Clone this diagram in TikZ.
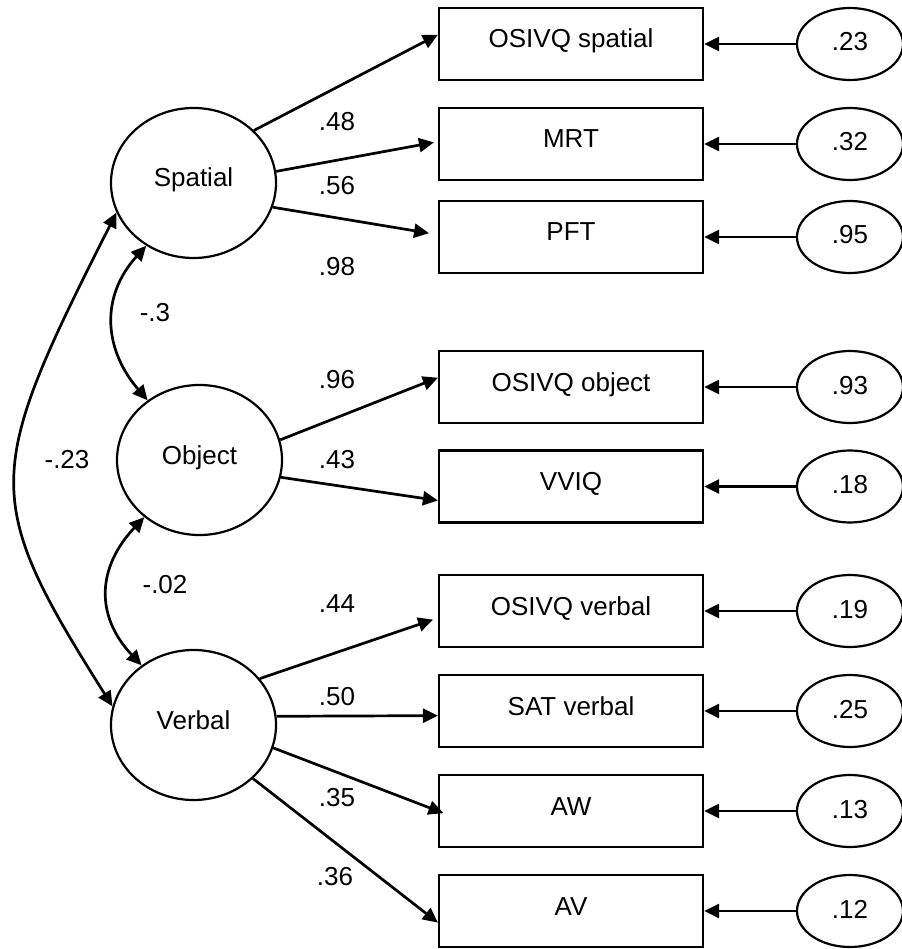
\documentclass[tikz,border=0pt]{standalone}
\usepackage{fontspec}
\setmainfont{Liberation Sans}
\usetikzlibrary{arrows.meta,shapes.geometric}
\begin{document}
\begin{tikzpicture}[x=1pt,y=-1pt,
  every node/.style={font=\fontsize{26}{30}\selectfont, inner sep=0pt},
  obs/.style={draw, line width=2.2pt, rectangle, minimum width=264pt, minimum height=72pt, text height=20pt, text depth=12pt},
  lat/.style={draw, line width=2.2pt, ellipse, minimum width=165pt, minimum height=150pt, text height=20pt, text depth=12pt},
  err/.style={draw, line width=2.2pt, ellipse, minimum width=106pt, minimum height=72pt, text height=19pt, text depth=5pt},
  load/.style={line width=2.7pt, -{Triangle[length=15pt,width=14pt]}},
  cov/.style={line width=2.7pt, {Triangle[length=15pt,width=14pt]}-{Triangle[length=15pt,width=14pt]}},
  coef/.style={anchor=center}
]
\useasboundingbox (0,0) rectangle (901,949);

% latent factors
\node[lat] (Sp) at (193.5,183) {Spatial};
\node[lat] (Ob) at (199.5,460) {Object};
\node[lat] (Vb) at (193.5,725) {Verbal};

% observed variables
\node[obs] (OSp) at (571,44) {OSIVQ spatial};
\node[obs] (MRT) at (571,144) {MRT};
\node[obs] (PFT) at (571,237) {PFT};
\node[obs] (OOb) at (571,387) {OSIVQ object};
\node[obs] (VVIQ) at (571,486.5) {VVIQ};
\node[obs] (OVb) at (571,611) {OSIVQ verbal};
\node[obs] (SAT) at (571,711) {SAT verbal};
\node[obs] (AW) at (571,811) {AW};
\node[obs] (AV) at (571,911) {AV};

% error terms
\node[err] (e1) at (850,44) {.23};
\node[err] (e2) at (850,144) {.32};
\node[err] (e3) at (850,237) {.95};
\node[err] (e4) at (850,387) {.93};
\node[err] (e5) at (850,486.5) {.18};
\node[err] (e6) at (850,611) {.19};
\node[err] (e7) at (850,711) {.25};
\node[err] (e8) at (850,811) {.13};
\node[err] (e9) at (850,911) {.12};

\foreach \e/\o in {e1/OSp,e2/MRT,e3/PFT,e4/OOb,e5/VVIQ,e6/OVb,e7/SAT,e8/AW,e9/AV}
  \draw[load] (\e.west) -- (\o.east);

% loadings
\draw[load] (Sp.41) -- (OSp.176);
\draw[load, shorten >=4pt] (Sp.8) -- (MRT.179);
\draw[load, shorten >=9pt] (Sp.-17) -- (PFT.179);
\draw[load] (Ob.14) -- (OOb.176);
\draw[load] (Ob.-12) -- (VVIQ.186);
\draw[load, shorten >=5pt] (Vb.35) -- (OVb.183);
\draw[load] (Vb.6) -- (SAT.182);
\draw[load, shorten >=-6pt] (Vb.-16) -- (AW.180);
\draw[load] (Vb.-42) -- (AV.185);

% covariances
\draw[cov] (Sp.233) .. controls +(-47,52) and +(-43,-50) .. (Ob.131);
\draw[cov] (Ob.226) .. controls +(-47,50) and +(-47,-50) .. (Vb.131);
\draw[cov] (Sp.201) .. controls +(-132,261) and +(-132,-209) .. (Vb.167);

% coefficients
\node[coef] (c48) at (337,122) {.48};
\node[coef] (c56) at (337,186) {.56};
\node[coef] (c98) at (337,267) {.98};
\node[coef] (c96) at (337,380) {.96};
\node[coef] (c43) at (337,460) {.43};
\node[coef] (c44) at (337,604) {.44};
\node[coef] (c50) at (337,697) {.50};
\node[coef] (c35) at (337,798) {.35};
\node[coef] (c36) at (335,877) {.36};
\node[coef] (cso) at (155,313) {-.3};
\node[coef] (csv) at (67,460) {-.23};
\node[coef] (cov2) at (165,585) {-.02};
\end{tikzpicture}
\end{document}
